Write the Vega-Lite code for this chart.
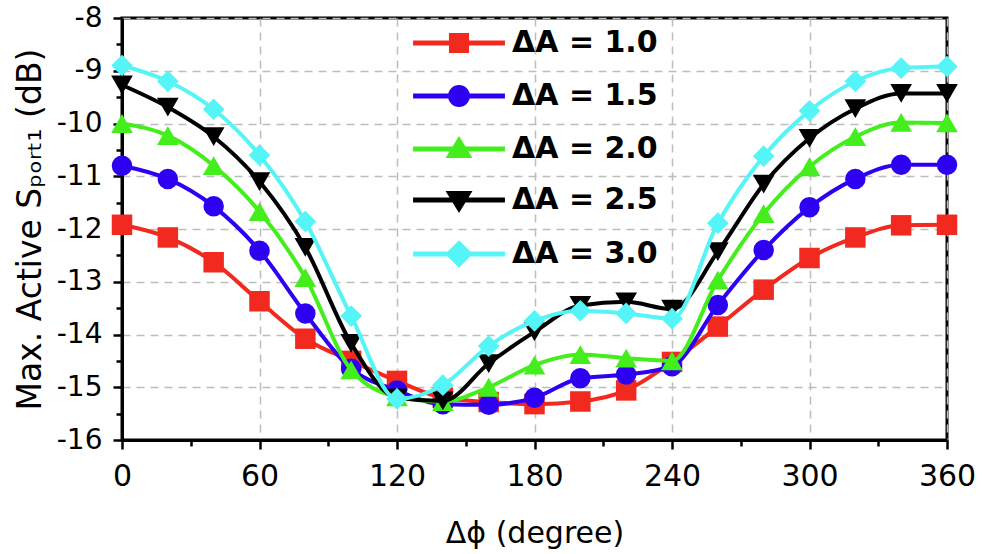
{
  "$schema": "https://vega.github.io/schema/vega-lite/v6.json",
  "width": 825,
  "height": 422,
  "autosize": "none",
  "padding": {"left": 122, "top": 18, "right": 35, "bottom": 114},
  "background": "white",
  "config": {
    "view": {"stroke": "black", "strokeWidth": 3},
    "font": "DejaVu Sans",
    "axis": {
      "domainColor": "black", "domainWidth": 3,
      "tickColor": "black", "tickWidth": 2.5,
      "labelColor": "black", "labelFont": "DejaVu Sans",
      "titleFontWeight": "normal", "titleColor": "black", "titleFont": "DejaVu Sans",
      "gridColor": "#BDBDBD", "gridDash": [8, 6], "gridWidth": 1.5,
      "labelFlush": false
    },
    "legend": {"symbolOpacity": 1},
    "line": {"strokeWidth": 4, "interpolate": "monotone"},
    "point": {"filled": true, "opacity": 1, "size": 420, "strokeWidth": 0}
  },
  "data": {"values": [
    {"phi":0,"dA":"1.0","v":-11.92},{"phi":20,"dA":"1.0","v":-12.16},{"phi":40,"dA":"1.0","v":-12.63},{"phi":60,"dA":"1.0","v":-13.37},{"phi":80,"dA":"1.0","v":-14.08},{"phi":100,"dA":"1.0","v":-14.5},{"phi":120,"dA":"1.0","v":-14.88},{"phi":140,"dA":"1.0","v":-15.2},{"phi":160,"dA":"1.0","v":-15.28},{"phi":180,"dA":"1.0","v":-15.32},{"phi":200,"dA":"1.0","v":-15.27},{"phi":220,"dA":"1.0","v":-15.06},{"phi":240,"dA":"1.0","v":-14.52},{"phi":260,"dA":"1.0","v":-13.85},{"phi":280,"dA":"1.0","v":-13.15},{"phi":300,"dA":"1.0","v":-12.55},{"phi":320,"dA":"1.0","v":-12.16},{"phi":340,"dA":"1.0","v":-11.93},{"phi":360,"dA":"1.0","v":-11.92},
    {"phi":0,"dA":"1.5","v":-10.8},{"phi":20,"dA":"1.5","v":-11.05},{"phi":40,"dA":"1.5","v":-11.57},{"phi":60,"dA":"1.5","v":-12.41},{"phi":80,"dA":"1.5","v":-13.6},{"phi":100,"dA":"1.5","v":-14.65},{"phi":120,"dA":"1.5","v":-15.06},{"phi":140,"dA":"1.5","v":-15.32},{"phi":160,"dA":"1.5","v":-15.33},{"phi":180,"dA":"1.5","v":-15.2},{"phi":200,"dA":"1.5","v":-14.83},{"phi":220,"dA":"1.5","v":-14.76},{"phi":240,"dA":"1.5","v":-14.6},{"phi":260,"dA":"1.5","v":-13.44},{"phi":280,"dA":"1.5","v":-12.4},{"phi":300,"dA":"1.5","v":-11.59},{"phi":320,"dA":"1.5","v":-11.05},{"phi":340,"dA":"1.5","v":-10.78},{"phi":360,"dA":"1.5","v":-10.78},
    {"phi":0,"dA":"2.0","v":-10.0},{"phi":20,"dA":"2.0","v":-10.23},{"phi":40,"dA":"2.0","v":-10.8},{"phi":60,"dA":"2.0","v":-11.67},{"phi":80,"dA":"2.0","v":-12.92},{"phi":100,"dA":"2.0","v":-14.67},{"phi":120,"dA":"2.0","v":-15.18},{"phi":140,"dA":"2.0","v":-15.27},{"phi":160,"dA":"2.0","v":-15.0},{"phi":180,"dA":"2.0","v":-14.58},{"phi":200,"dA":"2.0","v":-14.38},{"phi":220,"dA":"2.0","v":-14.45},{"phi":240,"dA":"2.0","v":-14.5},{"phi":260,"dA":"2.0","v":-12.97},{"phi":280,"dA":"2.0","v":-11.71},{"phi":300,"dA":"2.0","v":-10.82},{"phi":320,"dA":"2.0","v":-10.25},{"phi":340,"dA":"2.0","v":-9.98},{"phi":360,"dA":"2.0","v":-9.99},
    {"phi":0,"dA":"2.5","v":-9.27},{"phi":20,"dA":"2.5","v":-9.69},{"phi":40,"dA":"2.5","v":-10.25},{"phi":60,"dA":"2.5","v":-11.1},{"phi":80,"dA":"2.5","v":-12.35},{"phi":100,"dA":"2.5","v":-14.17},{"phi":120,"dA":"2.5","v":-15.2},{"phi":140,"dA":"2.5","v":-15.26},{"phi":160,"dA":"2.5","v":-14.55},{"phi":180,"dA":"2.5","v":-13.95},{"phi":200,"dA":"2.5","v":-13.45},{"phi":220,"dA":"2.5","v":-13.38},{"phi":240,"dA":"2.5","v":-13.52},{"phi":260,"dA":"2.5","v":-12.43},{"phi":280,"dA":"2.5","v":-11.15},{"phi":300,"dA":"2.5","v":-10.28},{"phi":320,"dA":"2.5","v":-9.72},{"phi":340,"dA":"2.5","v":-9.43},{"phi":360,"dA":"2.5","v":-9.43},
    {"phi":0,"dA":"3.0","v":-8.9},{"phi":20,"dA":"3.0","v":-9.2},{"phi":40,"dA":"3.0","v":-9.73},{"phi":60,"dA":"3.0","v":-10.6},{"phi":80,"dA":"3.0","v":-11.86},{"phi":100,"dA":"3.0","v":-13.65},{"phi":120,"dA":"3.0","v":-15.22},{"phi":140,"dA":"3.0","v":-14.96},{"phi":160,"dA":"3.0","v":-14.22},{"phi":180,"dA":"3.0","v":-13.74},{"phi":200,"dA":"3.0","v":-13.55},{"phi":220,"dA":"3.0","v":-13.6},{"phi":240,"dA":"3.0","v":-13.7},{"phi":260,"dA":"3.0","v":-11.89},{"phi":280,"dA":"3.0","v":-10.62},{"phi":300,"dA":"3.0","v":-9.76},{"phi":320,"dA":"3.0","v":-9.2},{"phi":340,"dA":"3.0","v":-8.95},{"phi":360,"dA":"3.0","v":-8.92}
  ]},
  "encoding": {
    "x": {
      "field": "phi", "type": "quantitative",
      "scale": {"domain": [0, 360], "nice": false},
      "axis": {
        "values": [0, 30, 60, 90, 120, 150, 180, 210, 240, 270, 300, 330, 360],
        "labelExpr": "datum.value % 60 === 0 ? datum.label : ''",
        "tickSize": {"condition": {"test": "datum.value % 60 === 0", "value": 9}, "value": 6},
        "gridOpacity": {"condition": {"test": "datum.value % 60 === 0", "value": 1}, "value": 0},
        "labelFontSize": 30, "labelPadding": 12,
        "title": "Δϕ (degree)", "titleFontSize": 30,
        "titlePadding": 27
      }
    },
    "y": {
      "field": "v", "type": "quantitative",
      "scale": {"domain": [-16, -8], "nice": false},
      "axis": {
        "values": [-16, -15.5, -15, -14.5, -14, -13.5, -13, -12.5, -12, -11.5, -11, -10.5, -10, -9.5, -9, -8.5, -8],
        "labelExpr": "datum.value % 1 === 0 ? '' + datum.value : ''",
        "tickSize": {"condition": {"test": "datum.value % 1 === 0", "value": 9}, "value": 6},
        "gridOpacity": {"condition": {"test": "datum.value % 1 === 0", "value": 1}, "value": 0},
        "labelFontSize": 28, "labelPadding": 11,
        "title": "Max. Active Sₚₒᵣₜ₁ (dB)", "titleFontSize": 33,
        "titlePadding": 9
      }
    },
    "color": {"field": "dA", "type": "nominal",
      "scale": {"domain": ["1.0", "1.5", "2.0", "2.5", "3.0"], "range": ["#F2291E", "#2E00F2", "#44EE1C", "#000000", "#55F5F7"]}}
  },
  "layer": [
    {"transform": [{"filter": "datum.dA === '1.0'"}], "mark": "line"},
    {"transform": [{"filter": "datum.dA === '1.0'"}], "mark": {"type": "point", "shape": "square"}},
    {"transform": [{"filter": "datum.dA === '1.5'"}], "mark": "line"},
    {"transform": [{"filter": "datum.dA === '1.5'"}], "mark": {"type": "point", "shape": "circle"}},
    {"transform": [{"filter": "datum.dA === '2.0'"}], "mark": "line"},
    {"transform": [{"filter": "datum.dA === '2.0'"}], "mark": {"type": "point", "shape": "triangle-up", "size": 470}},
    {"transform": [{"filter": "datum.dA === '2.5'"}], "mark": "line"},
    {"transform": [{"filter": "datum.dA === '2.5'"}], "mark": {"type": "point", "shape": "triangle-down", "size": 470}},
    {"transform": [{"filter": "datum.dA === '3.0'"}], "mark": "line"},
    {"transform": [{"filter": "datum.dA === '3.0'"}], "mark": {"type": "point", "shape": "diamond", "size": 470}},
    {
      "mark": {"type": "point", "filled": true, "opacity": 0, "size": 2116, "strokeWidth": 0},
      "encoding": {
        "color": {"field": "dA", "type": "nominal",
          "legend": {"orient": "none", "legendX": 312, "legendY": 0, "title": null, "padding": 0,
            "labelFontSize": 30, "labelFontWeight": "bold", "labelFont": "DejaVu Sans", "labelColor": "black",
            "labelExpr": "'ΔA = ' + datum.label", "rowPadding": 11, "labelOffset": 28, "symbolSize": 2116, "symbolOpacity": 1}},
        "shape": {"field": "dA", "type": "nominal",
          "legend": {"orient": "none", "legendX": 312, "legendY": 0, "title": null, "padding": 0,
            "labelFontSize": 30, "labelFontWeight": "bold", "labelFont": "DejaVu Sans", "labelColor": "black",
            "labelExpr": "'ΔA = ' + datum.label", "rowPadding": 11, "labelOffset": 28, "symbolSize": 2116, "symbolOpacity": 1},
          "scale": {"domain": ["1.0", "1.5", "2.0", "2.5", "3.0"], "range": [
            "M-1.91,-0.022H-0.3V0.022H-1.91Z M0.3,-0.022H1.91V0.022H0.3Z M-0.35,-0.35H0.35V0.35H-0.35Z",
            "M-1.91,-0.022H-0.3V0.022H-1.91Z M0.3,-0.022H1.91V0.022H0.3Z M-0.39,0A0.39,0.39 0 1,0 0.39,0A0.39,0.39 0 1,0 -0.39,0Z",
            "M-1.91,-0.022H-0.3V0.022H-1.91Z M0.3,-0.022H1.91V0.022H0.3Z M0,-0.4L0.43,0.3H-0.43Z",
            "M-1.91,-0.022H-0.3V0.022H-1.91Z M0.3,-0.022H1.91V0.022H0.3Z M0,0.4L0.43,-0.3H-0.43Z",
            "M-1.91,-0.022H-0.3V0.022H-1.91Z M0.3,-0.022H1.91V0.022H0.3Z M0,-0.48L0.48,0L0,0.48L-0.48,0Z"
          ]}}
      }
    }
  ]
}
